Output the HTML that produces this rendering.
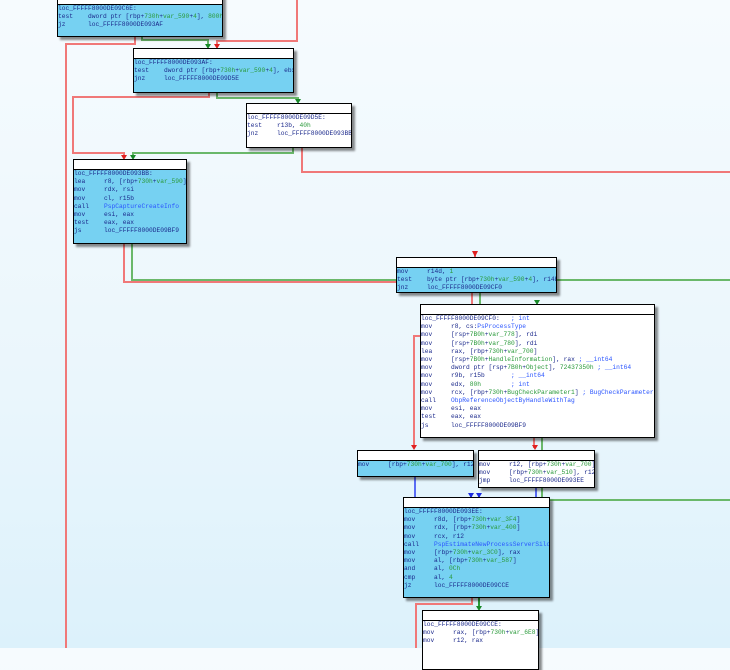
<!DOCTYPE html>
<html><head><meta charset="utf-8"><style>
html,body{margin:0;padding:0}
body{width:730px;height:648px;overflow:hidden;position:relative;background:linear-gradient(to bottom,#f6fbfe 0%,#eaf6fc 60%,#dcf1fb 100%);font-family:"Liberation Mono",monospace}
.bx{position:absolute;border:1px solid #000;background:#76d1f2;box-shadow:3px 3px 2px rgba(0,0,0,.45);box-sizing:border-box}
.bx.w{background:#fff}
.t{height:9px;background:#fff;border-bottom:1px solid #000}
pre{margin:0;font-family:"Liberation Mono",monospace;font-size:6.25px;line-height:8.2px;color:#1c2a8c;white-space:pre;overflow:hidden}
.g{color:#2a9a3a}.b{color:#2a55ff}
svg{position:absolute;left:0;top:0}
</style></head><body>
<svg width="730" height="648" viewBox="0 0 730 648">
<g fill="none" stroke-width="2">
<path d="M297 0V41H217V46" stroke="#f07878"/>
<path d="M142 36V40H208V46" stroke="#6ab86a"/>
<path d="M135 36V44H66V648" stroke="#f07878"/>
<path d="M209 92V97H73V153H124V157" stroke="#f07878"/>
<path d="M217 92V98H298V101" stroke="#6ab86a"/>
<path d="M293 147V153H133V157" stroke="#6ab86a"/>
<path d="M302 147V172H730" stroke="#f07878"/>
<path d="M124 243V282H475V255" stroke="#f07878" transform="translate(0,0)"/>
<path d="M132 243V280H730" stroke="#6ab86a"/>
<path d="M472 292V336H414V448" stroke="#f07878"/>
<path d="M480 292V336H537V302" stroke="#6ab86a"/>
<path d="M534 437V448" stroke="#f07878"/>
<path d="M542 437V500H730" stroke="#6ab86a"/>
<path d="M415 476V555H471V495" stroke="#5a6cf5"/>
<path d="M536 476V555H479V495" stroke="#5a6cf5"/>
<path d="M472 597V604H416V648" stroke="#f07878"/>
<path d="M479 597V608" stroke="#2a9a3a"/>
</g>
<g fill="#e02020">
<path d="M214 44h6l-3 5z"/><path d="M121 155h6l-3 5z"/><path d="M472 251h6l-3 6z"/><path d="M411 445h6l-3 5z"/><path d="M532 445h6l-3 5z"/>
</g>
<g fill="#1a8a2a">
<path d="M205 44h6l-3 5z"/><path d="M295 99h6l-3 5z"/><path d="M130 155h6l-3 5z"/><path d="M534 300h6l-3 5z"/><path d="M476 606h6l-3 5z"/>
</g>
<g fill="#1a2ae0"><path d="M468 493h6l-3 5z"/><path d="M476 493h6l-3 5z"/></g>
</svg>
<div class="bx" style="left:57px;top:-6px;width:166px;height:43px"><div class="t"></div><pre>
loc_FFFFF8000DE09C6E:
test    dword ptr [rbp+<span class="g">730h</span>+<span class="g">var_590</span>+<span class="g">4</span>], <span class="g">800h</span>
jz      loc_FFFFF8000DE093AF</pre></div>
<div class="bx" style="left:133px;top:48px;width:161px;height:45px"><div class="t"></div><pre>
loc_FFFFF8000DE093AF:
test    dword ptr [rbp+<span class="g">730h</span>+<span class="g">var_590</span>+<span class="g">4</span>], ebx
jnz     loc_FFFFF8000DE09D5E</pre></div>
<div class="bx w" style="left:246px;top:103px;width:106px;height:45px"><div class="t"></div><pre>
loc_FFFFF8000DE09D5E:
test    r13b, <span class="g">40h</span>
jnz     loc_FFFFF8000DE093BB</pre></div>
<div class="bx" style="left:73px;top:159px;width:114px;height:85px"><div class="t"></div><pre>
loc_FFFFF8000DE093BB:
lea     r8, [rbp+<span class="g">730h</span>+<span class="g">var_590</span>]
mov     rdx, rsi
mov     cl, r15b
call    <span class="b">PspCaptureCreateInfo</span>
mov     esi, eax
test    eax, eax
js      loc_FFFFF8000DE09BF9</pre></div>
<div class="bx" style="left:396px;top:257px;width:161px;height:36px"><div class="t"></div><pre>mov     r14d, <span class="g">1</span>
test    byte ptr [rbp+<span class="g">730h</span>+<span class="g">var_590</span>+<span class="g">4</span>], r14b
jnz     loc_FFFFF8000DE09CF0</pre></div>
<div class="bx w" style="left:420px;top:304px;width:235px;height:134px"><div class="t"></div><pre>
loc_FFFFF8000DE09CF0:   <span class="b">; int</span>
mov     r8, cs:<span class="b">PsProcessType</span>
mov     [rsp+<span class="g">7B0h</span>+<span class="g">var_778</span>], rdi
mov     [rsp+<span class="g">7B0h</span>+<span class="g">var_780</span>], rdi
lea     rax, [rbp+<span class="g">730h</span>+<span class="g">var_700</span>]
mov     [rsp+<span class="g">7B0h</span>+<span class="g">HandleInformation</span>], rax <span class="b">; __int64</span>
mov     dword ptr [rsp+<span class="g">7B0h</span>+<span class="g">Object</span>], <span class="g">72437350h</span> <span class="b">; __int64</span>
mov     r9b, r15b       <span class="b">; __int64</span>
mov     edx, <span class="g">80h</span>        <span class="b">; int</span>
mov     rcx, [rbp+<span class="g">730h</span>+<span class="g">BugCheckParameter1</span>] <span class="b">; BugCheckParameter1</span>
call    <span class="b">ObpReferenceObjectByHandleWithTag</span>
mov     esi, eax
test    eax, eax
js      loc_FFFFF8000DE09BF9</pre></div>
<div class="bx" style="left:357px;top:450px;width:117px;height:27px"><div class="t"></div><pre>mov     [rbp+<span class="g">730h</span>+<span class="g">var_700</span>], r12</pre></div>
<div class="bx w" style="left:478px;top:450px;width:117px;height:38px"><div class="t"></div><pre>mov     r12, [rbp+<span class="g">730h</span>+<span class="g">var_700</span>]
mov     [rbp+<span class="g">730h</span>+<span class="g">var_510</span>], r12
jmp     loc_FFFFF8000DE093EE</pre></div>
<div class="bx" style="left:403px;top:497px;width:147px;height:101px"><div class="t"></div><pre>
loc_FFFFF8000DE093EE:
mov     r8d, [rbp+<span class="g">730h</span>+<span class="g">var_3F4</span>]
mov     rdx, [rbp+<span class="g">730h</span>+<span class="g">var_400</span>]
mov     rcx, r12
call    <span class="b">PspEstimateNewProcessServerSilo</span>
mov     [rbp+<span class="g">730h</span>+<span class="g">var_3C0</span>], rax
mov     al, [rbp+<span class="g">730h</span>+<span class="g">var_587</span>]
and     al, <span class="g">0Ch</span>
cmp     al, <span class="g">4</span>
jz      loc_FFFFF8000DE09CCE</pre></div>
<div class="bx w" style="left:422px;top:610px;width:117px;height:60px"><div class="t"></div><pre>
loc_FFFFF8000DE09CCE:
mov     rax, [rbp+<span class="g">730h</span>+<span class="g">var_6E8</span>]
mov     r12, rax</pre></div>
</body></html>
